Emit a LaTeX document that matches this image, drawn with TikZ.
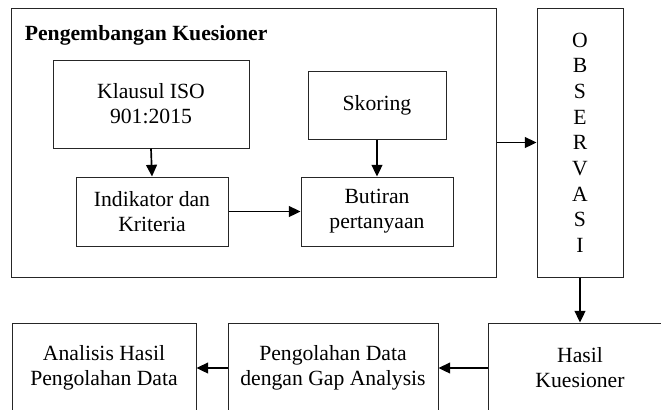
\documentclass[tikz,border=0pt]{standalone}
\usepackage{fontspec}
\setmainfont{Liberation Serif}
\usetikzlibrary{arrows.meta}

\begin{document}
\begin{tikzpicture}[x=0.6pt, y=-0.6pt, every node/.style={font=\fontsize{13}{15}\selectfont},
  kotak/.style={draw=black!85, line width=0.6pt, align=center, inner sep=0pt},
  panah/.style={-{Triangle[length=7pt,width=6.5pt]}, line width=1pt}]
 \clip (0,0) rectangle (661,409);
 % blok pengembangan kuesioner
 \node[kotak, minimum width=291pt, minimum height=161.4pt] (frame) at (253.5,142.5) {};
 \node[anchor=west, font=\fontsize{13}{15}\selectfont\bfseries] (judul) at (19,35) {Pengembangan Kuesioner};
 \node[kotak, minimum width=117.6pt, minimum height=52.8pt] (klausul) at (151,104) {Klausul ISO\\ 901:2015};
 \node[kotak, minimum width=82.8pt, minimum height=40.8pt] (skoring) at (377,105) {Skoring};
 \node[kotak, minimum width=91.2pt, minimum height=41.4pt] (indikator) at (152,211.5) {Indikator dan\\ Kriteria};
 \node[kotak, minimum width=91.2pt, minimum height=41.4pt] (butiran) at (377,211.5) {Butiran\\ pertanyaan};
 \node[kotak, minimum width=51.6pt, minimum height=161.4pt, font=\fontsize{13}{15.4}\selectfont] (observasi) at (580,142.5) {O\\ B\\ S\\ E\\ R\\ V\\ A\\ S\\ I};
 % baris bawah (terpotong)
 \node[kotak, minimum width=110.4pt, minimum height=54pt] (hasil) at (580,368) {Hasil\\ Kuesioner};
 \node[kotak, minimum width=126pt, minimum height=54pt] (pengolahan) at (333,368) {Pengolahan Data\\ dengan Gap Analysis};
 \node[kotak, minimum width=110.4pt, minimum height=54pt] (analisis) at (104,368) {Analisis Hasil\\ Pengolahan Data};
 \draw[panah] (klausul.south) -- (indikator.north);
 \draw[panah] (skoring.south) -- (butiran.north);
 \draw[panah] (indikator.east) -- (butiran.west);
 \draw[panah] (frame.east) -- (observasi.west);
 \draw[panah] (observasi.south) -- (hasil.north);
 \draw[panah] (hasil.west) -- (pengolahan.east);
 \draw[panah] (pengolahan.west) -- (analisis.east);
\end{tikzpicture}
\end{document}
